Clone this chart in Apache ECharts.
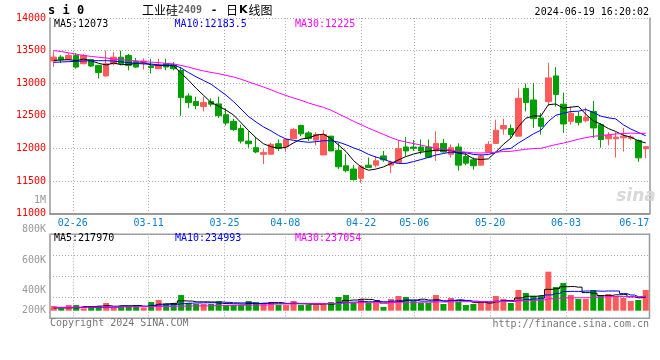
<!DOCTYPE html>
<html><head><meta charset="utf-8">
<script src="https://cdn.jsdelivr.net/npm/echarts@6/dist/echarts.min.js"></script>
<style>html,body{margin:0;padding:0;background:#fff}#c{width:660px;height:360px}</style>
</head><body><div id="c"></div>
<script>
// ---------- data ----------
const dates = ['02-21','02-22','02-23','02-26','02-27','02-28','02-29',
 '03-01','03-04','03-05','03-06','03-07','03-08','03-11','03-12','03-13','03-14','03-15','03-18','03-19','03-20','03-21','03-22','03-25','03-26','03-27','03-28','03-29',
 '04-01','04-02','04-03','04-08','04-09','04-10','04-11','04-12','04-15','04-16','04-17','04-18','04-19','04-22','04-23','04-24','04-25','04-26','04-29','04-30',
 '05-06','05-07','05-08','05-09','05-10','05-13','05-14','05-15','05-16','05-17','05-20','05-21','05-22','05-23','05-24','05-27','05-28','05-29','05-30','05-31',
 '06-03','06-04','06-05','06-06','06-07','06-11','06-12','06-13','06-14','06-17','06-18','06-19'];
const labelDates = ['02-26','03-11','03-25','04-08','04-22','05-06','05-20','06-03','06-17'];
const gridDates  = ['02-26','03-11','03-25','04-08','04-22','05-06','05-20','06-03'];

const opens = [13340,13400,13364,13424,13298,13364,13273,13111,13298,13399,13424,13338,13320,13260,13222,13298,13273,13197,12803,12717,
 12641,12717,12682,12515,12414,12303,12111,12010,11909,11909,12071,12025,12147,12349,12237,12126,11899,12187,11970,11732,
 11682,11540,11742,11742,11884,11742,11783,12020,12020,12020,12020,11960,12076,11909,12020,11874,11823,11742,11944,12076,
 12298,12303,12187,12919,12742,12465,12717,13111,12677,12414,12490,12424,12566,12364,12147,12147,12162,12152,12121,11995];
const closes = [13400,13360,13424,13247,13424,13263,13162,13298,13399,13298,13273,13247,13340,13240,13273,13247,13222,12778,12702,12657,
 12702,12677,12500,12389,12288,12111,12071,11945,11934,12061,12000,12136,12288,12222,12152,12212,12212,11960,11717,11657,
 11520,11717,11707,11808,11823,11783,11995,11960,12000,11960,11864,12076,11945,12010,11742,11773,11732,11884,12061,12278,
 12349,12212,12768,12702,12455,12338,13081,12828,12374,12540,12399,12475,12313,12136,12197,12172,12187,12172,11854,12025];
const lows = [13250,13310,13350,13222,13290,13250,13071,13100,13275,13273,13197,13237,13210,13150,13222,13197,13197,12500,12616,12601,
 12566,12641,12465,12349,12263,12076,12010,11924,11758,11909,11960,11945,12137,12187,12111,12046,11899,11960,11682,11631,
 11505,11470,11707,11707,11793,11621,11783,11884,11960,11909,11850,11808,11934,11859,11657,11742,11672,11742,11944,12076,
 12212,12162,12187,12566,12313,12212,12652,12641,12237,12364,12349,12399,12162,12010,12046,11859,11950,12131,11793,11849];
const highs = [13490,13430,13460,13460,13450,13375,13280,13500,13475,13500,13450,13389,13380,13375,13375,13375,13323,13250,12843,12793,
 12793,12768,12793,12616,12455,12364,12263,12172,11985,12086,12136,12136,12313,12364,12263,12248,12278,12187,12086,11909,
 11743,11743,11859,11874,11960,11808,12126,12172,12126,12136,12136,12263,12147,12061,12076,11934,11859,11909,12111,12440,
 12455,12364,12919,12995,13005,12540,13313,13247,12854,12641,12566,12626,12727,12389,12248,12248,12313,12202,12136,12035];
const volumes = [76000,38000,92000,92000,38000,76000,76000,125000,49000,76000,76000,92000,49000,141000,174000,109000,125000,255000,125000,109000,
 109000,109000,158000,92000,92000,92000,158000,141000,125000,141000,92000,92000,158000,92000,92000,92000,125000,141000,223000,255000,
 125000,190000,125000,125000,60000,190000,239000,223000,158000,125000,125000,255000,109000,207000,141000,92000,109000,141000,141000,239000,
 190000,125000,337000,288000,239000,239000,636000,386000,451000,255000,190000,190000,337000,255000,272000,239000,207000,158000,174000,337000];

// moving-average values before a full window exists
const ma5Head  = [13350,13355,13360,13345];
const ma10Head = [13320,13325,13330,13335,13340,13345,13345,13345,13340];
const ma30Head = [13500,13485,13465,13445,13425,13410,13398,13385,13372,13360,13350,13340,13330,13322,13315,13305,13295,13272,13245,13215,
 13187,13165,13145,13120,13095,13060,13020,12980,12940];
const vma5Head  = [45000,46000,47000,48000];
const vma10Head = [50000,50000,51000,52000,53000,54000,55000,56000,57000];
const vma30Head = [54000,55000,56000,57000,58000,59000,60000,61000,62000,63000,64000,65000,66000,67000,68000,70000,72000,74000,76000,78000,
 80000,82000,84000,85000,86000,88000,90000,91000,92000];

const priceLegend = ['MA5:12073','MA10:12183.5','MA30:12225'];
const volLegend   = ['MA5:217970','MA10:234993','MA30:237054'];
const volTickLabels = ['1M','800K','600K','400K','200K'];

// ---------- layout / style ----------
const volTickY = [200, 229, 260, 290.5, 310.5];
const MONO = '"DejaVu Sans Mono", "Liberation Mono", monospace';
const RED = '#ff5a5a', GREEN = '#00a000', GRID = '#aaaaaa', AXIS = '#999999';
const MA_COLORS = ['#000000', '#0000ff', '#ff00ff'];

function movingAvg(vals, n, head) {
  return vals.map((v, i) => {
    if (i < n - 1) return head[i];
    let s = 0;
    for (let j = i - n + 1; j <= i; j++) s += vals[j];
    return Math.round(s / n * 10) / 10;
  });
}
const ma5 = movingAvg(closes, 5, ma5Head), ma10 = movingAvg(closes, 10, ma10Head), ma30 = movingAvg(closes, 30, ma30Head);
const vma5 = movingAvg(volumes, 5, vma5Head), vma10 = movingAvg(volumes, 10, vma10Head), vma30 = movingAvg(volumes, 30, vma30Head);

const candleData = dates.map((d, i) => [opens[i], closes[i], lows[i], highs[i]]);
const volData = volumes.map((v, i) => ({ value: v, itemStyle: { color: closes[i] >= opens[i] ? RED : GREEN } }));

const dotted = { color: GRID, width: 1, type: [1, 2] };

const chart = echarts.init(document.getElementById('c'), null, { renderer: 'canvas' });

function txt(text, x, y, fill, align, extra) {
  return Object.assign({ type: 'text', x: x, y: y, z: 100, silent: true,
    style: { text: text, fill: fill, font: '10px ' + MONO, align: align || 'left', verticalAlign: 'middle' } }, extra || {});
}

const graphics = [
  { type: 'text', x: 48, y: 11, z: 100, style: { text: 's i 0', fill: '#000', font: 'bold 12px ' + MONO, align: 'left', verticalAlign: 'middle' } },
  { type: 'text', x: 142, y: 10, z: 100, style: {
      text: '{a|工业硅}{b|2409}{c| - }{a|日}{k|K}{a|线图}', align: 'left', verticalAlign: 'middle',
      rich: {
        a: { fill: '#000', font: '12px "Noto Sans CJK SC"' },
        b: { fill: '#666', font: 'bold 10px ' + MONO },
        c: { fill: '#000', font: 'bold 11px ' + MONO, padding: [0, 2, 0, 2] },
        k: { fill: '#000', font: 'bold 11px "DejaVu Sans"', padding: [0, 1, 0, 1] }
      } } },
  txt('2024-06-19 16:20:02', 649, 12, '#000', 'right'),
  txt(priceLegend[0], 54, 24, MA_COLORS[0]),
  txt(priceLegend[1], 174.5, 24, MA_COLORS[1]),
  txt(priceLegend[2], 295, 24, MA_COLORS[2]),
  txt(volLegend[0], 54, 238.5, MA_COLORS[0]),
  txt(volLegend[1], 175, 238.5, MA_COLORS[1]),
  txt(volLegend[2], 295, 238.5, MA_COLORS[2]),
  txt('Copyright 2024 SINA.COM', 50, 323, '#777'),
  txt('http://finance.sina.com.cn', 649, 324, '#777', 'right'),
  { type: 'text', x: 636, y: 197, z: 1, style: { text: 'sina', fill: '#d8d8d8', font: 'italic bold 17px "DejaVu Sans"', align: 'center', verticalAlign: 'middle' } }
].concat(volTickLabels.map((t, i) => txt(t, 46, volTickY[i], '#999', 'right')));

const option = {
  animation: false,
  backgroundColor: '#fff',
  grid: [
    { left: 50, right: 10.5, top: 18, height: 195.5 },
    { left: 50, right: 10.5, top: 234.3, height: 84, show: true, borderColor: AXIS, borderWidth: 1.5 }
  ],
  xAxis: [
    { type: 'category', gridIndex: 0, data: dates, boundaryGap: true, axisLine: { lineStyle: { color: AXIS, width: 2 } },
      axisTick: { show: false }, axisLabel: { show: false }, splitLine: { show: false } },
    { type: 'category', gridIndex: 0, data: dates, boundaryGap: false, position: 'bottom', axisLine: { show: false }, axisTick: { show: false },
      axisLabel: { interval: (i, v) => labelDates.indexOf(v) >= 0, color: '#0a80c8', fontFamily: MONO, fontSize: 10, margin: 5 },
      splitLine: { show: true, interval: (i, v) => gridDates.indexOf(v) >= 0, lineStyle: dotted } },
    { type: 'category', gridIndex: 1, data: dates, boundaryGap: true, axisLine: { show: false }, axisTick: { show: false },
      axisLabel: { show: false }, splitLine: { show: false } },
    { type: 'category', gridIndex: 1, data: dates, boundaryGap: false, position: 'bottom', axisLine: { show: false }, axisTick: { show: false },
      axisLabel: { show: false }, splitLine: { show: true, interval: (i, v) => gridDates.indexOf(v) >= 0, lineStyle: dotted } }
  ],
  yAxis: [
    { type: 'value', gridIndex: 0, min: 11000, max: 14000, interval: 500, axisLine: { show: true, lineStyle: { color: AXIS, width: 1.5 } },
      axisTick: { show: false }, axisLabel: { color: '#ff0000', fontFamily: MONO, fontSize: 10, margin: 4, formatter: v => String(v) },
      splitLine: { show: true, lineStyle: dotted } },
    { type: 'value', gridIndex: 0, position: 'right', min: 11000, max: 14000, axisLine: { show: true, lineStyle: { color: AXIS, width: 1.5 } },
      axisTick: { show: false }, axisLabel: { show: false }, splitLine: { show: false } },
    { type: 'value', gridIndex: 1, min: -124000, max: 1245000, axisLine: { show: false }, axisTick: { show: false },
      axisLabel: { show: false }, splitLine: { show: false } },
    { type: 'value', gridIndex: 1, min: 0, max: 4, interval: 1, axisLine: { show: false }, axisTick: { show: false },
      axisLabel: { show: false }, splitLine: { show: true, lineStyle: dotted } }
  ],
  series: [
    { type: 'candlestick', xAxisIndex: 0, yAxisIndex: 0, data: candleData, barWidth: 6,
      itemStyle: { color: RED, color0: GREEN, borderColor: RED, borderColor0: GREEN, borderWidth: 1 } },
    { type: 'line', xAxisIndex: 0, yAxisIndex: 0, data: ma5, symbol: 'none', z: 5, lineStyle: { color: MA_COLORS[0], width: 1 } },
    { type: 'line', xAxisIndex: 0, yAxisIndex: 0, data: ma10, symbol: 'none', z: 5, lineStyle: { color: MA_COLORS[1], width: 1 } },
    { type: 'line', xAxisIndex: 0, yAxisIndex: 0, data: ma30, symbol: 'none', z: 5, lineStyle: { color: MA_COLORS[2], width: 1 } },
    { type: 'bar', xAxisIndex: 2, yAxisIndex: 2, data: volData, barWidth: 6 },
    { type: 'line', xAxisIndex: 2, yAxisIndex: 2, data: vma5, step: 'middle', symbol: 'none', z: 5, lineStyle: { color: MA_COLORS[0], width: 1 } },
    { type: 'line', xAxisIndex: 2, yAxisIndex: 2, data: vma10, step: 'middle', symbol: 'none', z: 5, lineStyle: { color: MA_COLORS[1], width: 1 } },
    { type: 'line', xAxisIndex: 2, yAxisIndex: 2, data: vma30, step: 'middle', symbol: 'none', z: 5, lineStyle: { color: MA_COLORS[2], width: 1 } }
  ],
  graphic: graphics
};
chart.setOption(option);
</script>
</body></html>
